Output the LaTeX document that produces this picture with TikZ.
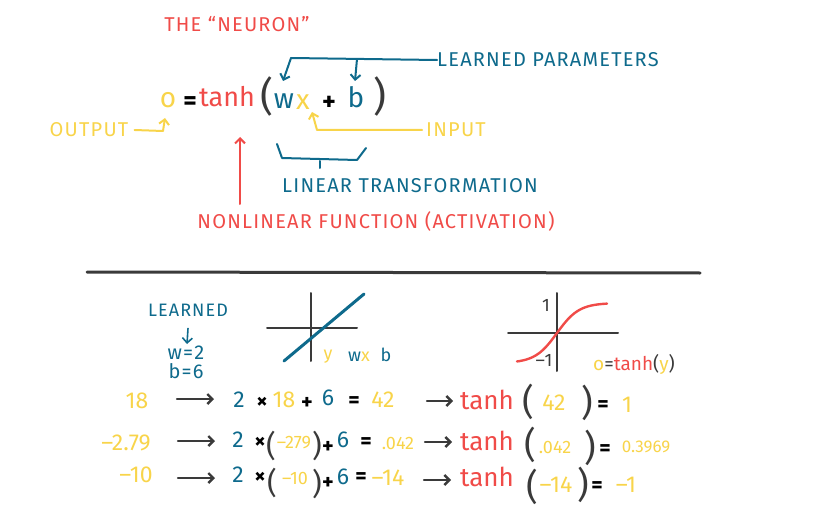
\documentclass[tikz,border=0pt]{standalone}
\usepackage{fontspec}
\setmainfont{Fira Sans}
\newfontfamily\capfont{Fira Sans}[LetterSpace=6]
\usetikzlibrary{arrows.meta}
\definecolor{nred}{HTML}{F04B48}
\definecolor{nblue}{HTML}{0E6A8C}
\definecolor{nyellow}{HTML}{F8D44A}
\definecolor{ngray}{HTML}{3A3A3A}
\tikzset{
  tok/.style={inner sep=0pt, anchor=center},
  caplbl/.style={tok, font=\capfont\fontsize{20}{24}\selectfont},
  smlbl/.style={tok, font=\capfont\fontsize{18}{20}\selectfont},
  eqbig/.style={tok, font=\fontsize{28}{32}\selectfont},
  rowtok/.style={tok, font=\fontsize{23}{27}\selectfont},
  rowsm/.style={tok, font=\fontsize{18}{21}\selectfont},
  rowop/.style={tok, font=\fontsize{22}{26}\bfseries},
  fnbig/.style={tok, text=nred, font=\fontsize{26}{30}\selectfont},
  paren/.style={tok, text=ngray, font=\fontsize{36}{40}\selectfont},
  hand/.style={line width=2pt, line cap=round, line join=round},
  barb/.style={hand, -{Straight Barb[length=5pt,width=10pt]}},
  rowarr/.style={barb, ngray, line width=2.4pt}
}
\begin{document}
\begin{tikzpicture}[x=1pt, y=-1pt]
  \useasboundingbox (0,0) rectangle (822,516);
  % top: the neuron
  \node[caplbl, text=nred] (title) at (237,24) {THE “NEURON”};
  \node[eqbig, text=nyellow] (o) at (168,100) {o};
  \node[rowop, font=\fontsize{26}{30}\bfseries] (eq) at (190,103) {=};
  \node[fnbig, font=\fontsize{27}{30}\selectfont] (tanh) at (227,97) {tanh};
  \node[paren, font=\fontsize{40}{44}\selectfont] (lp) at (267,97) {(};
  \node[eqbig, text=nblue] (w) at (284,101) {w};
  \node[eqbig, text=nyellow] (x) at (303,102) {x};
  \node[rowop, font=\fontsize{26}{30}\bfseries] (plus) at (329,103) {+};
  \node[eqbig, text=nblue] (b) at (356,97) {b};
  \node[paren, font=\fontsize{40}{44}\selectfont] (rp) at (380,97) {)};
  \node[caplbl, text=nblue] (lparam) at (548,60) {LEARNED PARAMETERS};
  \node[caplbl, text=nyellow] (input) at (456,130) {INPUT};
  \node[caplbl, text=nyellow] (output) at (89,130) {OUTPUT};
  \node[caplbl, text=nblue] (lintr) at (410,186) {LINEAR TRANSFORMATION};
  \node[caplbl, text=nred] (nonlin) at (376,221) {NONLINEAR FUNCTION (ACTIVATION)};
  \coordinate (lp1) at (291,58);
  \coordinate (lp2) at (357,59);
  \coordinate (in1) at (317,130);
  \coordinate (oc) at (163,131);
  \coordinate (nl1) at (240,204);
  \coordinate (nl2) at (240,137);
  \draw[hand, nblue] (lparam.west) -- (lp1);
  \draw[barb, nblue] (lp1) -- (283,81);
  \draw[barb, nblue] (lp2) -- (355,81);
  \draw[barb, nyellow] ([xshift=-4pt]input.west) -- (in1) -- (312,112);
  \draw[barb, nyellow] ([xshift=6pt]output.east) -- (oc) -- (165,118);
  \draw[barb, nred] (nl1) -- (nl2);
  \draw[hand, nblue] (277,144) -- (282,158) -- (357,160) -- (366,148);
  \draw[hand, nblue] (320,161) -- (320,168);
  % separator
  \draw[line width=3pt, ngray, line cap=round] (87,272) -- (700,273);
  % learned values
  \node[smlbl, text=nblue] (learned) at (188,310) {LEARNED};
  \node[smlbl, font=\capfont\fontsize{20}{22}\selectfont, text=nblue] (wval) at (186,353) {w=2};
  \node[smlbl, font=\capfont\fontsize{20}{22}\selectfont, text=nblue] (bval) at (186,371) {b=6};
  \draw[barb, nblue, line width=1.6pt] (learned.south) ++(0,12) -- (187,344);
  % linear graph
  \draw[hand, ngray] (267,328) -- (357,328);
  \draw[hand, ngray] (311,293) -- (311,361);
  \draw[line width=3pt, nblue, line cap=round] (284,361) -- (364,294);
  \node[smlbl, text=nyellow] (gy) at (328,357) {y};
  \node[smlbl] (gwx) at (359,357) {\color{nblue}w\color{nyellow}x};
  \node[smlbl, text=nblue] (gb) at (386,355) {b};
  % tanh graph
  \draw[hand, ngray] (508,333) -- (618,333);
  \draw[hand, ngray] (557,293) -- (557,371);
  \draw[line width=2.4pt, nred, line cap=round] plot[domain=-40:50, samples=40]
    ({557+\x}, {333-30*tanh(\x/22)});
  \node[smlbl, text=ngray] (one) at (546,305) {1};
  \node[smlbl, text=ngray] (mone) at (544,360) {–1};
  \node[smlbl, font=\fontsize{19}{22}\selectfont] (gtanh) at (634,364) {\color{nyellow}o\color{ngray}=\color{nred}tanh\color{ngray}(\color{nyellow}y\color{ngray})};
  % row 1
  \coordinate (r1s) at (177,399);
  \coordinate (r1e) at (214,399);
  \coordinate (r1t) at (427,401);
  \coordinate (r1u) at (453,401);
  \node[rowtok, text=nyellow] (v1) at (137,401) {18};
  \node[rowtok, text=nblue] (m1) at (239,400) {2};
  \node[rowop] (t1) at (262,403) {×};
  \node[rowtok, text=nyellow] (x1) at (284,400) {18};
  \node[rowop] (p1) at (307,403) {+};
  \node[rowtok, text=nblue] (c1) at (328,398) {6};
  \node[rowop] (e1) at (354,402) {=};
  \node[rowtok, text=nyellow] (y1) at (383,400) {42};
  \node[fnbig] (f1) at (487,400) {tanh};
  \node[paren] (l1) at (528,402) {(};
  \node[rowtok, text=nyellow] (a1) at (554,403) {42};
  \node[paren] (r1) at (587,403) {)};
  \node[rowop] (q1) at (603,406) {=};
  \node[rowtok, text=nyellow] (o1) at (627,405) {1};
  \draw[rowarr] (r1s) -- (r1e);
  \draw[rowarr] (r1t) -- (r1u);
  % row 2
  \coordinate (r2s) at (178,441);
  \coordinate (r2e) at (215,441);
  \coordinate (r2t) at (425,442);
  \coordinate (r2u) at (452,442);
  \node[rowtok, text=nyellow] (v2) at (126,443) {–2.79};
  \node[rowtok, text=nblue] (m2) at (238,440) {2};
  \node[rowop] (t2) at (260,443) {×};
  \node[paren, font=\fontsize{30}{34}\selectfont] (l2) at (271,446) {(};
  \node[rowsm, text=nyellow] (x2) at (294,443) {–279};
  \node[paren, font=\fontsize{30}{34}\selectfont] (r2) at (317,446) {)};
  \node[rowop] (p2) at (328,447) {+};
  \node[rowtok, text=nblue] (c2) at (343,440) {6};
  \node[rowop] (e2) at (366,443) {=};
  \node[rowsm, text=nyellow] (y2) at (398,443) {.042};
  \node[fnbig] (f2) at (487,441) {tanh};
  \node[paren] (l2b) at (530,445) {(};
  \node[rowsm, text=nyellow] (a2) at (555,447) {.042};
  \node[paren] (r2b) at (590,448) {)};
  \node[rowop] (q2) at (605,450) {=};
  \node[rowsm, font=\fontsize{17}{20}\selectfont, text=nyellow] (o2) at (646,447) {0.3969};
  \draw[rowarr] (r2s) -- (r2e);
  \draw[rowarr] (r2t) -- (r2u);
  % row 3
  \coordinate (r3s) at (178,478);
  \coordinate (r3e) at (215,478);
  \coordinate (r3t) at (424,480);
  \coordinate (r3u) at (451,480);
  \node[rowtok, text=nyellow] (v3) at (136,475) {–10};
  \node[rowtok, text=nblue] (m3) at (238,475) {2};
  \node[rowop] (t3) at (260,478) {×};
  \node[paren, font=\fontsize{30}{34}\selectfont] (l3) at (272,483) {(};
  \node[rowsm, text=nyellow] (x3) at (295,478) {–10};
  \node[paren, font=\fontsize{30}{34}\selectfont] (r3) at (317,484) {)};
  \node[rowop] (p3) at (328,483) {+};
  \node[rowtok, text=nblue] (c3) at (343,477) {6};
  \node[rowop] (e3) at (361,478) {=};
  \node[rowtok, text=nyellow] (y3) at (388,478) {–14};
  \node[fnbig] (f3) at (487,477) {tanh};
  \node[paren] (l3b) at (532,487) {(};
  \node[rowtok, text=nyellow] (a3) at (556,485) {–14};
  \node[paren] (r3b) at (583,485) {)};
  \node[rowop] (q3) at (597,487) {=};
  \node[rowtok, text=nyellow] (o3) at (626,485) {–1};
  \draw[rowarr] (r3s) -- (r3e);
  \draw[rowarr] (r3t) -- (r3u);
\end{tikzpicture}
\end{document}
